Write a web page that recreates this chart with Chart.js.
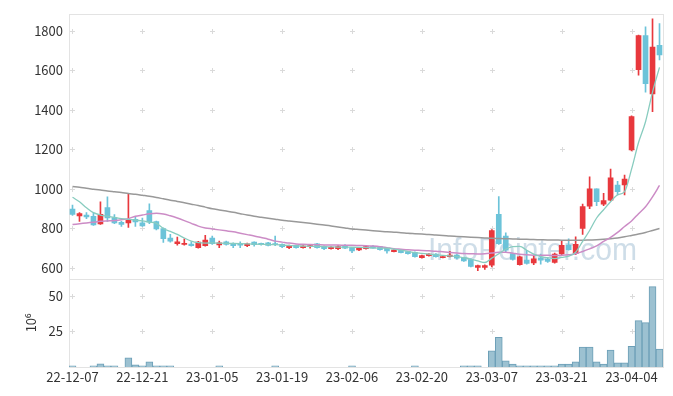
<!DOCTYPE html>
<html><head><meta charset="utf-8">
<script src="https://cdn.jsdelivr.net/npm/chart.js@4.4.0/dist/chart.umd.min.js"></script>
<style>html,body{margin:0;padding:0;background:#fff}#wrap{width:673px;height:396px;position:relative}</style>
</head><body><div id="wrap"><canvas id="c" width="673" height="396"></canvas></div>
<script>
const dates = ["22-12-07","22-12-08","22-12-09","22-12-12","22-12-13","22-12-14","22-12-15","22-12-16","22-12-19","22-12-20",
"22-12-21","22-12-22","22-12-23","22-12-26","22-12-27","22-12-28","22-12-29","23-01-02","23-01-03","23-01-04",
"23-01-05","23-01-06","23-01-09","23-01-10","23-01-11","23-01-12","23-01-13","23-01-16","23-01-17","23-01-18",
"23-01-19","23-01-20","23-01-25","23-01-26","23-01-27","23-01-30","23-01-31","23-02-01","23-02-02","23-02-03",
"23-02-06","23-02-07","23-02-08","23-02-09","23-02-10","23-02-13","23-02-14","23-02-15","23-02-16","23-02-17",
"23-02-20","23-02-21","23-02-22","23-02-23","23-02-24","23-02-27","23-02-28","23-03-02","23-03-03","23-03-06",
"23-03-07","23-03-08","23-03-09","23-03-10","23-03-13","23-03-14","23-03-15","23-03-16","23-03-17","23-03-20",
"23-03-21","23-03-22","23-03-23","23-03-24","23-03-27","23-03-28","23-03-29","23-03-30","23-03-31","23-04-03",
"23-04-04","23-04-05","23-04-06","23-04-07","23-04-10"];

const openP  = [898,863,868,861,823,906,855,831,828,846, 828,891,835,800,751,723,720,721,703,713,
                751,717,733,723,720,713,731,722,728,723, 720,703,715,703,708,723,710,698,698,715,
                703,691,698,710,708,700,683,691,683,680, 653,663,671,653,658,666,653,643,603,603,
                615,871,761,673,617,640,626,651,645,628, 671,716,673,800,913,1000,923,943,1020,1020,
                1198,1603,1776,1481,1726];
const highP  = [918,880,880,878,935,960,870,836,978,860, 853,925,838,803,770,756,748,733,735,765,
                761,736,736,728,733,726,733,726,730,761, 722,716,716,713,716,725,712,708,713,718,
                705,705,710,713,710,701,693,693,685,682, 665,673,673,658,685,668,655,646,615,616,
                795,961,778,676,660,690,665,670,650,675, 736,748,758,923,1061,1000,978,1100,1038,1070,
                1370,1778,1820,1861,1836];
const lowP   = [866,836,850,816,820,836,825,810,806,811, 811,825,793,730,731,715,716,710,700,710,
                720,703,716,703,703,708,710,716,712,713, 703,698,700,701,701,701,693,696,693,698,
                678,688,695,700,690,675,681,676,670,655, 650,660,655,651,656,646,633,605,586,593,
                606,720,683,640,614,620,617,620,628,625, 665,690,668,770,900,916,916,940,970,970,
                1192,1575,1490,1391,1653];
const closeP = [871,876,858,818,871,853,828,821,841,833, 813,833,798,748,736,733,725,713,731,741,
                723,728,720,713,716,723,718,720,714,718, 708,713,703,711,711,703,698,705,708,700,
                686,703,708,701,693,686,691,678,673,658, 663,671,658,656,666,650,636,608,613,613,
                790,723,690,643,656,623,646,640,633,671, 715,693,720,911,1000,936,941,1056,986,1050,
                1366,1776,1533,1718,1678];
const volume = [0.8,0,0,0.8,2.3,0.8,0.8,0,6.5,1.6, 0.8,3.7,0.8,0.8,0.8,0,0,0,0,0,
                0,0.8,0,0,0,0,0,0,0,0.8, 0,0,0,0,0,0,0,0,0,0,
                0.8,0,0,0,0,0,0,0,0,0.8, 0,0,0,0,0,0,0.8,0.8,0.8,0,
                11.3,20.8,4.4,2.1,0.8,0.8,0.8,0.8,0.8,0.8, 2.1,2.1,3.7,13.9,13.9,3.7,2.1,11.8,3.0,3.0,
                14.6,32.6,31.2,56.4,12.5];
const ma5  = [958,935,905,880,868,862,856,850,846,843, 838,832,826,800,785,770,752,736,728,726,
              727,726,725,724,723,722,721,720,719,718, 716,714,712,711,710,710,708,707,706,706,
              705,704,703,702,701,700,696,690,684,678, 674,670,667,664,661,658,652,645,636,628,
              650,672,695,708,710,690,670,658,652,648, 654,660,680,735,790,853,895,935,970,986,
              1100,1235,1340,1490,1615];
const ma20 = [820,824,828,832,836,838,840,844,850,862, 868,874,877,873,864,853,840,826,812,803,
              798,793,788,783,776,769,762,754,746,736, 731,726,722,720,719,718,717,716,716,715,
              715,714,713,711,708,703,698,695,692,690, 689,687,685,682,679,676,673,672,671,672,
              676,680,680,675,670,667,665,664,664,663, 664,667,672,684,697,712,735,755,780,810,
              838,875,910,960,1018];
const ma60 = [1012,1008,1003,999,995,990,986,982,977,973, 968,963,957,950,943,937,930,923,916,908,
              900,894,888,882,875,868,862,857,852,847, 842,838,834,830,826,822,818,813,808,803,
              798,795,792,789,786,783,781,779,776,774, 772,770,767,765,762,760,758,756,754,752,
              750,749,748,747,746,745,744,743,742,742, 741,741,741,741,742,743,745,748,752,758,
              765,772,780,790,800];
const xTickLabels = ["22-12-07","22-12-21","23-01-05","23-01-19","23-02-06","23-02-20","23-03-07","23-03-21","23-04-04"];
const priceTicks = [600,800,1000,1200,1400,1600,1800];
const volumeTicks = [25,50];

const UP = '#e8383d', DOWN = '#6cc3d9';
const candleColors = closeP.map((c,i)=> c>=openP[i] ? UP : DOWN);

const FONT = "'Noto Sans CJK KR','Noto Sans',sans-serif";
Chart.defaults.font.family = FONT;
Chart.defaults.font.size = 13;
Chart.defaults.color = '#333';

const decor = {
  id:'decor',
  beforeDatasetsDraw(chart){
    const {ctx, chartArea, scales} = chart;
    const x = scales.x, y = scales.y, yv = scales.yv;
    ctx.save();
    ctx.font = "32px 'Liberation Sans', Arial, sans-serif";
    ctx.fillStyle = 'rgba(185,207,222,0.7)';
    ctx.textBaseline = 'alphabetic';
    ctx.textAlign = 'left';
    ctx.fillText('InfoPointer.com', 428, 260, 209);
    ctx.strokeStyle = '#e3e3e3';
    ctx.lineWidth = 1;
    ctx.strokeRect(Math.round(chartArea.left)+0.5, Math.round(y.top)+0.5, Math.round(chartArea.right-chartArea.left), Math.round(y.bottom-y.top));
    ctx.strokeRect(Math.round(chartArea.left)+0.5, Math.round(yv.top)+0.5, Math.round(chartArea.right-chartArea.left), Math.round(yv.bottom-yv.top));
    ctx.strokeStyle = '#dadada';
    const xs = xTickLabels.map(l => x.getPixelForValue(dates.indexOf(l)));
    const ys = priceTicks.map(v=>y.getPixelForValue(v)).concat(volumeTicks.map(v=>yv.getPixelForValue(v)));
    ctx.beginPath();
    xs.forEach(px=>{
      const cx = Math.round(px)+0.5;
      ys.forEach(py=>{
        const cy = Math.round(py)+0.5;
        ctx.moveTo(cx-2.5, cy); ctx.lineTo(cx+2.5, cy);
        ctx.moveTo(cx, cy-2.5); ctx.lineTo(cx, cy+2.5);
      });
    });
    ctx.stroke();
    ctx.restore();
  }
};

const noGrid = {display:false, drawTicks:false};
new Chart(document.getElementById('c'), {
  type:'bar',
  data:{
    labels: dates,
    datasets:[
      {type:'line', data:ma5, borderColor:'#88ccbf', borderWidth:1.3, pointRadius:0, yAxisID:'y', order:0, cubicInterpolationMode:'monotone'},
      {type:'line', data:ma20, borderColor:'#cc8cc6', borderWidth:1.5, pointRadius:0, yAxisID:'y', order:0, cubicInterpolationMode:'monotone'},
      {type:'line', data:ma60, borderColor:'#999999', borderWidth:1.5, pointRadius:0, yAxisID:'y', order:0, cubicInterpolationMode:'monotone'},
      {type:'bar', data:openP.map((o,i)=>[o,closeP[i]]), backgroundColor:candleColors, barThickness:5, minBarLength:1, grouped:false, yAxisID:'y', order:1},
      {type:'bar', data:lowP.map((l,i)=>[l,highP[i]]), backgroundColor:candleColors, barThickness:1, grouped:false, yAxisID:'y', order:2},
      {type:'bar', data:volume, backgroundColor:'#9cc1d1', borderColor:'#6c9fb7', borderWidth:1, barPercentage:1, categoryPercentage:1, grouped:false, yAxisID:'yv', order:3}
    ]
  },
  options:{
    responsive:false, animation:false, devicePixelRatio:1,
    layout:{padding:{top:10,right:10,bottom:0,left:0}},
    plugins:{legend:{display:false}, tooltip:{enabled:false}},
    scales:{
      x:{type:'category', grid:noGrid, border:{display:false},
         ticks:{autoSkip:false, maxRotation:0, minRotation:0, padding:2,
                callback:(v,i)=> xTickLabels.includes(dates[i]) ? dates[i] : ''},
         afterFit:s=>{s.height=29;}},
      yv:{type:'linear', position:'left', stack:'panels', stackWeight:1, min:0, max:62,
         grid:noGrid, border:{display:false},
         ticks:{padding:6, callback:v=> String(v)},
         afterBuildTicks:s=>{s.ticks = volumeTicks.map(v=>({value:v}));},
         title:{display:true, text:'10⁶', padding:{top:23,bottom:0}},
         afterFit:s=>{s.width=69;}},
      y:{type:'linear', position:'left', stack:'panels', stackWeight:3, min:546, max:1886,
         grid:noGrid, border:{display:false},
         ticks:{padding:6, callback:v=> String(v)},
         afterBuildTicks:s=>{s.ticks = priceTicks.map(v=>({value:v}));},
         afterFit:s=>{s.width=69;}}
    }
  },
  plugins:[decor]
});
</script>
</body></html>
